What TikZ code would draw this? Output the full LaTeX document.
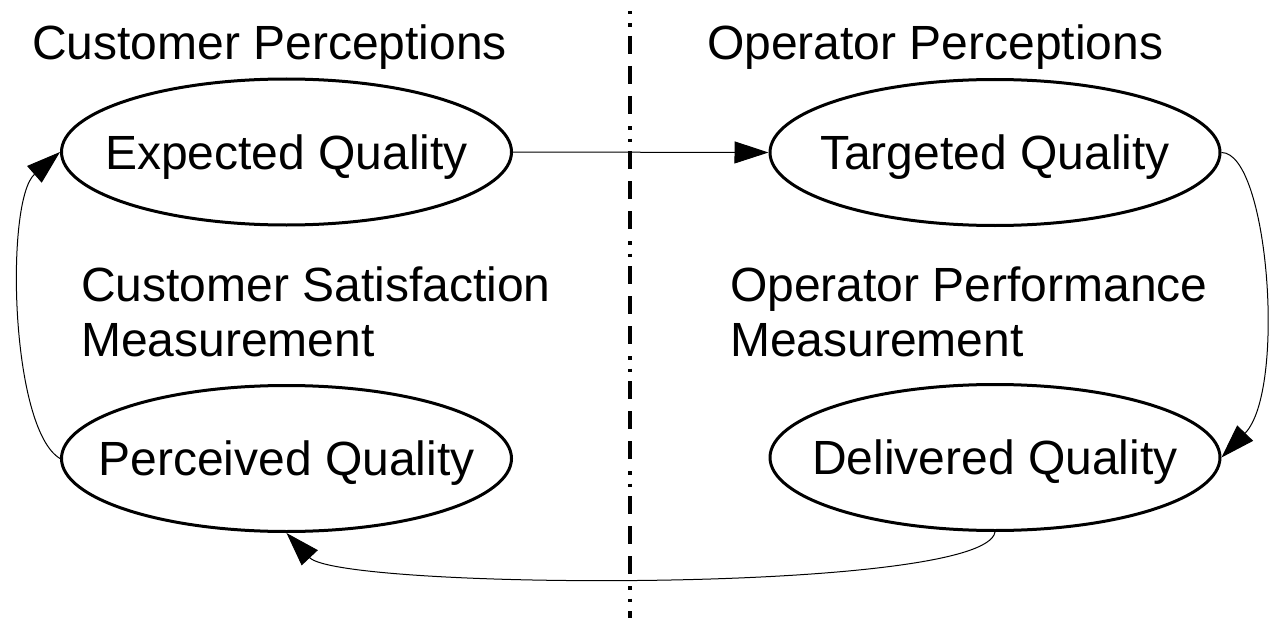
\documentclass[tikz,border=0pt]{standalone}
\usepackage{fontspec}
\setmainfont{Liberation Sans}
\usetikzlibrary{arrows.meta,shapes.geometric}
\begin{document}
\begin{tikzpicture}[x=1pt,y=-1pt,
  qual/.style={ellipse, draw, line width=3pt, minimum width=450pt, minimum height=146pt,
    inner xsep=-60pt, inner ysep=0pt, font=\fontsize{48}{53}\selectfont, text height=34pt, text depth=0pt},
  lbl/.style={anchor=base west, inner sep=0pt, font=\fontsize{48}{53}\selectfont},
  conn/.style={line width=1pt, -{Triangle[length=34pt,width=22pt]}},
  divider/.style={line width=3.5pt, dash pattern=on 3.5pt off 9pt on 3.5pt off 9pt on 18pt off 12pt on 18pt off 12pt on 18pt off 12pt}
]
\useasboundingbox (0,0) rectangle (1270,618);
\fill[white] (0,0) rectangle (1270,618);

% divider
\coordinate (dtop) at (630,11);
\coordinate (dbot) at (630,618);
\draw[divider] (dtop) -- (dbot);

% headings
\node[lbl] (cp) at (32,60) {Customer Perceptions};
\node[lbl] (op) at (707,60) {Operator Perceptions};
\node[lbl] (cs1) at (81,301) {Customer Satisfaction};
\node[lbl] (cs2) at (81,356) {Measurement};
\node[lbl] (om1) at (730,301) {Operator Performance};
\node[lbl] (om2) at (730,356) {Measurement};

% quality ellipses
\node[qual] (exp) at (286.5,152) {Expected Quality};
\node[qual] (tgt) at (995,152.5) {Targeted Quality};
\node[qual] (per) at (286.5,458.5) {Perceived Quality};
\node[qual] (del) at (995,457.5) {Delivered Quality};

% connectors
\draw[conn] (exp.east) -- (tgt.west);
\draw[conn] (tgt.east) .. controls +(47,0) and +(65,-67) .. (del.east);
\draw[conn] (del.south) .. controls +(-10,62) and +(53.5,57) .. (per.south);
\draw[conn] (per.west) .. controls +(-50,-30) and +(-55,48) .. (exp.west);
\end{tikzpicture}
\end{document}
